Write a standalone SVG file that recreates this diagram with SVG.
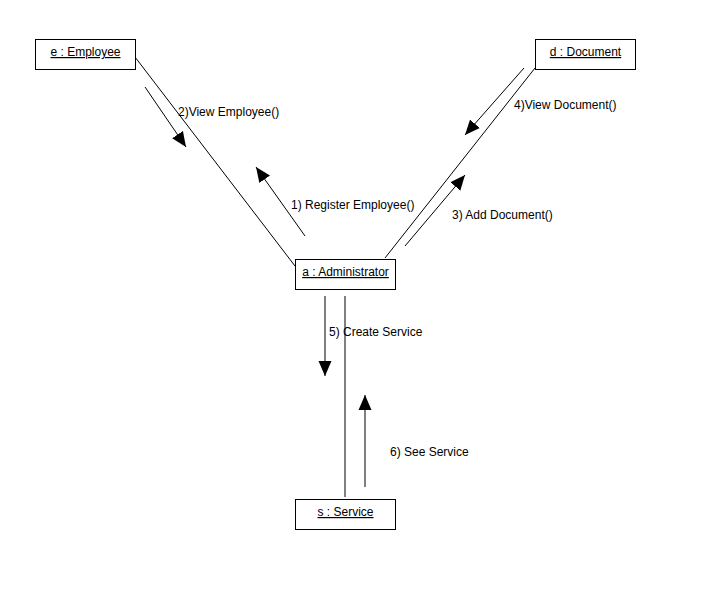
<svg xmlns="http://www.w3.org/2000/svg" width="726" height="592" viewBox="0 0 726 592">
<style>
.box{fill:#fff;stroke:#000;stroke-width:1}
.ln{stroke:#000;stroke-width:1;fill:none}
.t{font-family:"Liberation Sans",Arial,sans-serif;font-size:12px;fill:#000}
.u{text-decoration:underline;text-anchor:middle}
</style>
<defs>
<marker id="ah" markerUnits="userSpaceOnUse" markerWidth="16" markerHeight="14" refX="15" refY="6.5" orient="auto" viewBox="0 0 16 13">
<path d="M0,0 L15,6.5 L0,13 z" fill="#000"/>
</marker>
</defs>
<rect width="726" height="592" fill="#fff"/>
<g id="connectors">
<line class="ln" x1="135" y1="57" x2="295" y2="266"/>
<line class="ln" x1="535" y1="68" x2="385" y2="258"/>
<line class="ln" x1="345" y1="296" x2="345" y2="497"/>
<line class="ln" x1="145" y1="87" x2="186" y2="147" marker-end="url(#ah)"/>
<line class="ln" x1="305" y1="236" x2="256" y2="167" marker-end="url(#ah)"/>
<line class="ln" x1="524" y1="68" x2="465" y2="135" marker-end="url(#ah)"/>
<line class="ln" x1="405" y1="246" x2="465" y2="175" marker-end="url(#ah)"/>
<line class="ln" x1="325" y1="296" x2="325" y2="376" marker-end="url(#ah)"/>
<line class="ln" x1="365" y1="487" x2="365" y2="395" marker-end="url(#ah)"/>
<text class="t" x="178" y="116">2)View Employee()</text>
<text class="t" x="291" y="209">1) Register Employee()</text>
<text class="t" x="514" y="109">4)View Document()</text>
<text class="t" x="452" y="219">3) Add Document()</text>
<text class="t" x="329" y="336">5) Create Service</text>
<text class="t" x="390" y="456">6) See Service</text>
</g>
<g id="employee">
<rect class="box" x="35.5" y="39.5" width="100" height="30"/>
<text class="t u" x="85.5" y="56">e : Employee</text>
</g>
<g id="document">
<rect class="box" x="535.5" y="39.5" width="100" height="30"/>
<text class="t u" x="585.5" y="56">d : Document</text>
</g>
<g id="administrator">
<rect class="box" x="295.5" y="259.5" width="100" height="30"/>
<text class="t u" x="345.5" y="276">a : Administrator</text>
</g>
<g id="service">
<rect class="box" x="295.5" y="499.5" width="100" height="30"/>
<text class="t u" x="345.5" y="516">s : Service</text>
</g>
</svg>
